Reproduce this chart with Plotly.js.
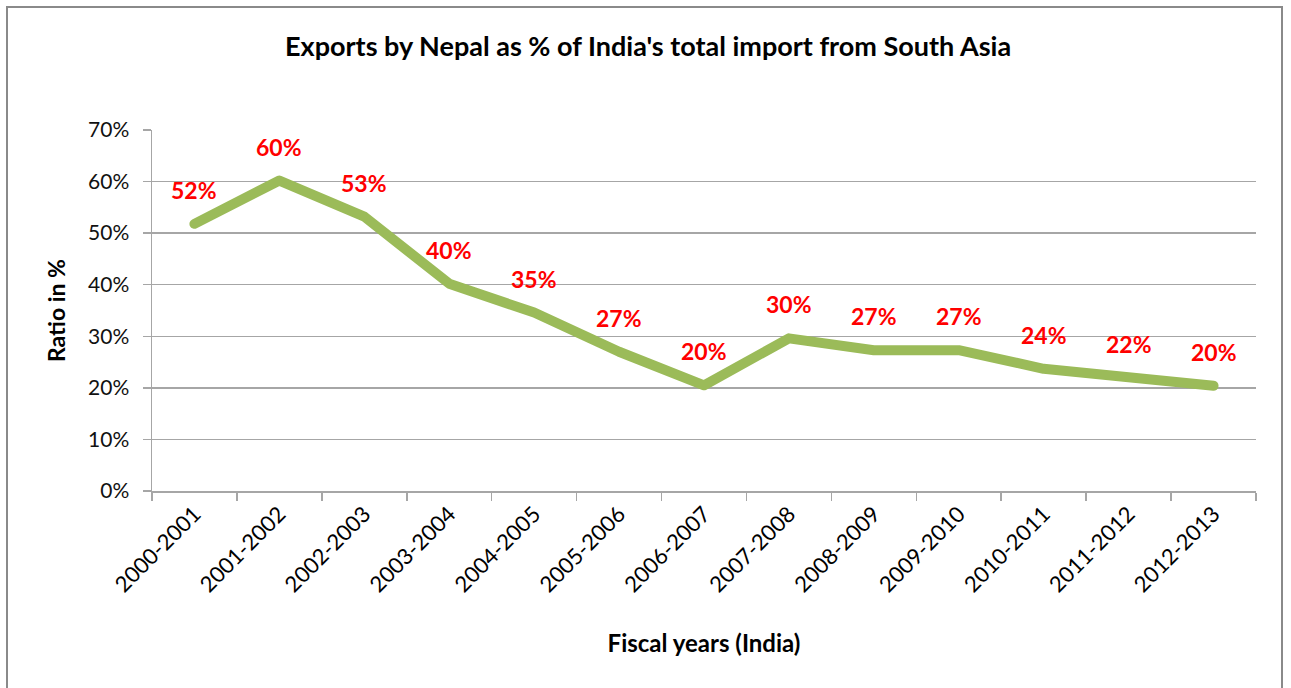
<!DOCTYPE html>
<html>
<head>
<meta charset="utf-8">
<script src="https://cdn.plot.ly/plotly-3.0.1.min.js"></script>
<style>
html,body{margin:0;padding:0;background:#fff;}
#wrap{position:relative;width:1291px;height:688px;overflow:hidden;}
#chart{width:1291px;height:688px;}
#frame{position:absolute;left:6px;top:6px;width:1277px;height:700px;border:2px solid #8a8a8a;pointer-events:none;box-sizing:border-box;}
.scatterlayer path.js-line{stroke-linecap:round !important;stroke-linejoin:round !important;}
</style>
</head>
<body>
<div id="wrap"><div id="chart"></div><div id="frame"></div></div>
<script>
const years = ["2000-2001","2001-2002","2002-2003","2003-2004","2004-2005","2005-2006","2006-2007","2007-2008","2008-2009","2009-2010","2010-2011","2011-2012","2012-2013"];
const ratio = [51.8, 60.2, 53.2, 40.2, 34.6, 27.0, 20.5, 29.6, 27.3, 27.3, 23.7, 22.0, 20.4];
const labels = ["52%","60%","53%","40%","35%","27%","20%","30%","27%","27%","24%","22%","20%"];
const yTicks = [0,10,20,30,40,50,60,70];
const yTickText = ["0%","10%","20%","30%","40%","50%","60%","70%"];

const FONT = "Lato, 'Open Sans', sans-serif";

const trace = {
  x: years, y: ratio, type: "scatter", mode: "lines",
  line: {color: "#9BBB59", width: 10, shape: "linear"},
  hoverinfo: "skip"
};

const annotations = years.map((c, i) => ({
  x: c, y: ratio[i], xref: "x", yref: "y",
  text: labels[i], showarrow: false, yshift: 34,
  font: {family: FONT, size: 23, color: "#FF0000", weight: "bold"}
}));

const layout = {
  width: 1291, height: 688,
  margin: {l: 152, r: 35, t: 130, b: 197},
  paper_bgcolor: "#fff", plot_bgcolor: "#fff",
  showlegend: false,
  title: {text: "<b>Exports by Nepal as % of India's total import from South Asia</b>",
    font: {family: FONT, size: 27, color: "#000"}, x: 0.502, xanchor: "center", y: 0.933, yanchor: "middle"},
  xaxis: {
    type: "category", range: [-0.5, 12.5],
    showgrid: false, showline: true, linecolor: "#A6A6A6", linewidth: 1.5,
    ticks: "outside", ticklen: 8, tickcolor: "#A6A6A6", tickwidth: 1.5, tickson: "boundaries",
    tickangle: -45, tickfont: {family: FONT, size: 22, color: "#000"},
    title: {text: "<b>Fiscal years (India)</b>", font: {family: FONT, size: 24, color: "#000"}, standoff: 39},
    zeroline: false, fixedrange: true
  },
  yaxis: {
    range: [0, 70], tickvals: yTicks, ticktext: yTickText,
    showgrid: true, gridcolor: "#A6A6A6", gridwidth: 1.3,
    showline: true, linecolor: "#A6A6A6", linewidth: 1.5,
    ticks: "outside", ticklen: 8, tickcolor: "#A6A6A6", tickwidth: 1.5,
    ticklabelstandoff: 9,
    tickfont: {family: FONT, size: 21, color: "#111"},
    title: {text: "<b>Ratio in %</b>", font: {family: FONT, size: 23, color: "#000"}, standoff: 16},
    zeroline: false, fixedrange: true
  },
  annotations: annotations
};

Plotly.newPlot("chart", [trace], layout, {displayModeBar: false, staticPlot: true});
</script>
</body>
</html>
